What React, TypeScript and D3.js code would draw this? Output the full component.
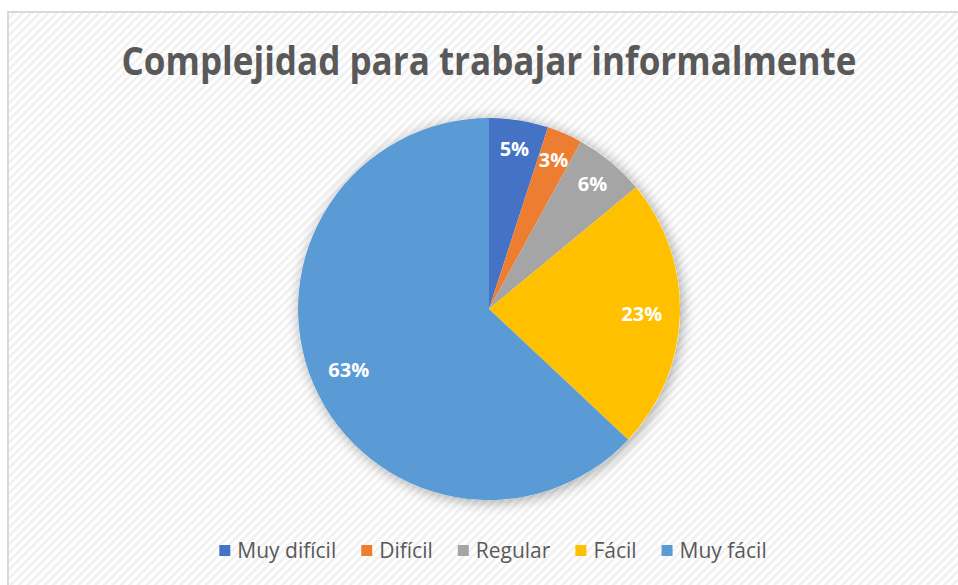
import React from "react";
import * as d3 from "d3";

const categories = ["Muy difícil", "Difícil", "Regular", "Fácil", "Muy fácil"];
const values = [5, 3, 6, 23, 63];
const labels = ["5%", "3%", "6%", "23%", "63%"];
const colors = ["#4472C4", "#ED7D31", "#A5A5A5", "#FFC000", "#5B9BD5"];
const title = "Complejidad para trabajar informalmente";

const W = 958;
const H = 585;

function measure(text: string, font: string): number {
  const c = document.createElement("canvas");
  const ctx = c.getContext("2d");
  if (!ctx) return text.length * 9;
  ctx.font = font;
  return ctx.measureText(text).width;
}

export default function App() {
  const cx = 489;
  const cy = 309;
  const r = 191;
  const pie = d3.pie<number>().sort(null).value((d) => d);
  const arcs = pie(values);
  const arc = d3.arc<d3.PieArcDatum<number>>().innerRadius(0).outerRadius(r);
  const labelArcSmall = d3
    .arc<d3.PieArcDatum<number>>()
    .innerRadius(r * 0.85)
    .outerRadius(r * 0.85);
  const labelArcLarge = d3
    .arc<d3.PieArcDatum<number>>()
    .innerRadius(r * 0.8)
    .outerRadius(r * 0.8);

  const legendFont = "21px 'Open Sans'";
  const sq = 11;
  const gapSq = 7;
  const gapItem = 25;
  const widths = categories.map((c) => measure(c, legendFont));
  const total =
    widths.reduce((a, b) => a + b, 0) +
    categories.length * (sq + gapSq) +
    (categories.length - 1) * gapItem;
  let x0 = 493 - total / 2;
  const legendItems = categories.map((c, i) => {
    const x = x0;
    x0 += sq + gapSq + widths[i] + gapItem;
    return { c, x, color: colors[i] };
  });

  return (
    <svg
      width={W}
      height={H}
      style={{ position: "absolute", left: 0, top: 0, display: "block" }}
    >
      <defs>
        <pattern
          id="hatch"
          width="6"
          height="6"
          patternUnits="userSpaceOnUse"
          patternTransform="rotate(45)"
        >
          <rect width="6" height="6" fill="#ffffff" />
          <rect width="2.5" height="6" fill="#f0f0f0" />
        </pattern>
        <filter id="shadow" x="-20%" y="-20%" width="140%" height="140%">
          <feDropShadow dx="2" dy="2" stdDeviation="7" floodColor="#000" floodOpacity="0.35" />
        </filter>
      </defs>
      <rect x={0} y={0} width={W} height={H} fill="#ffffff" />
      <rect
        x={8}
        y={12}
        width={W + 20}
        height={H + 20}
        fill="url(#hatch)"
        stroke="#d9d9d9"
        strokeWidth={2}
      />
      <text
        x={489}
        y={75}
        textAnchor="middle"
        fontFamily="'Open Sans', sans-serif"
        fontWeight="bold"
        fontSize={39}
        fill="#595959"
        textLength={735}
        lengthAdjust="spacingAndGlyphs"
      >
        {title}
      </text>
      <g transform={`translate(${cx},${cy})`}>
        <circle r={r} fill="#ffffff" filter="url(#shadow)" />
        {arcs.map((a, i) => (
          <path key={i} d={arc(a) || ""} fill={colors[i]} />
        ))}
        {arcs.map((a, i) => {
          const la = values[i] < 10 ? labelArcSmall : labelArcLarge;
          const [lx, ly] = la.centroid(a);
          return (
            <text
              key={i}
              x={lx}
              y={ly}
              dy="0.37em"
              textAnchor="middle"
              fontFamily="'Open Sans', sans-serif"
              fontWeight="bold"
              fontSize={20}
              fill="#ffffff"
            >
              {labels[i]}
            </text>
          );
        })}
      </g>
      <g>
        {legendItems.map((it, i) => (
          <g key={i}>
            <rect x={it.x} y={545} width={sq} height={sq} fill={it.color} />
            <text
              x={it.x + sq + gapSq}
              y={558}
              fontFamily="'Open Sans', sans-serif"
              fontSize={21}
              fill="#595959"
            >
              {it.c}
            </text>
          </g>
        ))}
      </g>
    </svg>
  );
}
